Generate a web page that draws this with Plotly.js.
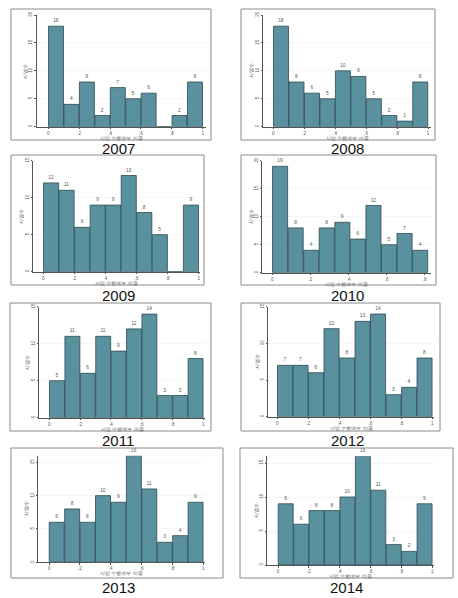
<!DOCTYPE html>
<html><head><meta charset="utf-8">
<script src="https://cdn.plot.ly/plotly-3.0.1.min.js"></script>
<style>html,body{margin:0;padding:0;background:#fff}#chart{width:458px;height:598px}</style>
</head><body><div id="chart"></div>
<script>
// ---- data ----
const years = ['2007','2008','2009','2010','2011','2012','2013','2014'];
const counts2007 = [18,4,8,2,7,5,6,0,2,8];
const counts2008 = [18,8,6,5,10,9,5,2,1,8];
const counts2009 = [12,11,6,9,9,13,8,5,0,9];
const counts2010 = [19,8,4,8,9,6,12,5,7,4];
const counts2011 = [5,11,6,11,9,12,14,3,3,8];
const counts2012 = [7,7,6,12,8,13,14,3,4,8];
const counts2013 = [6,8,6,10,9,16,11,3,4,9];
const counts2014 = [9,6,8,8,10,16,11,3,2,9];
const allCounts = [counts2007,counts2008,counts2009,counts2010,counts2011,counts2012,counts2013,counts2014];
const binWidths = [0.1,0.1,0.1,0.0817,0.1,0.1,0.1,0.1];
const xTickVals = [0,0.2,0.4,0.6,0.8,1];
const xTickText = ['0','.2','.4','.6','.8','1'];
const xTickVals2010 = [0,0.2,0.4,0.6,0.8];
const xTickText2010 = ['0','.2','.4','.6','.8'];
const yTicks20 = [0,5,10,15,20];
const yTicks15 = [0,5,10,15];
const yTickSets = [yTicks20,yTicks20,yTicks15,yTicks20,yTicks15,yTicks15,yTicks15,yTicks15];
const xTitle = '사업 수행여부 비율';
const yTitle = '사업수';

// ---- layout geometry (pixels) ----
const W = 458, H = 598;
const geo = [
 {box:[11,9,211,140], xl:36.7, xr:206, p0:48.3, p1:202.7, v1:1, y0:126.7, yt:15, tv:20, yr:[118,148]},
 {box:[241,9,435,140], xl:263.3, xr:430.7, p0:273.3, p1:428, v1:1, y0:126.7, yt:15, tv:20, yr:[347,148]},
 {box:[11,155,204,285], xl:33.3, xr:200, p0:43.3, p1:198.7, v1:1, y0:271.7, yt:160.7, tv:15, yr:[118,295]},
 {box:[241,155,436,285], xl:262.3, xr:430.7, p0:272.3, p1:424.7, v1:0.8, y0:272.7, yt:160.7, tv:20, yr:[347,295]},
 {box:[10,303,211,431], xl:39.3, xr:205, p0:49.3, p1:203.3, v1:1, y0:417.7, yt:306.7, tv:15, yr:[118,440.5]},
 {box:[241,303,440,431], xl:268.3, xr:434, p0:277.3, p1:432.3, v1:1, y0:416.7, yt:306.7, tv:15, yr:[347,440.5]},
 {box:[11,448,223,578], xl:38.3, xr:205, p0:49, p1:203.3, v1:1, y0:562.3, yt:462.3, tv:15, yr:[118,587]},
 {box:[240,448,453,578], xl:267.3, xr:434, p0:278, p1:432.3, v1:1, y0:565, yt:463, tv:15, yr:[346,587]}
];

const traces = [];
const layout = {
  width: W, height: H, margin:{l:0,r:0,t:0,b:0},
  paper_bgcolor:'#fff', plot_bgcolor:'rgba(0,0,0,0)',
  showlegend:false, bargap:0.04,
  font:{family:'Liberation Sans, Arial, sans-serif', color:'#333'},
  shapes:[], annotations:[]
};

allCounts.forEach((counts, i) => {
  const g = geo[i];
  const w = binWidths[i];
  const xs = counts.map((c,k) => (k+0.5)*w);
  const txt = counts.map(c => c > 0 ? String(c) : '');
  const n = i===0 ? '' : String(i+1);
  traces.push({
    type:'bar', x: xs, y: counts, width: w*0.97,
    xaxis:'x'+n, yaxis:'y'+n,
    marker:{color:'#5a919e', line:{color:'#2c4a52', width:0.8}},
    text: txt, textposition:'outside', cliponaxis:false,
    textfont:{size:4.8, color:'#555'}, hoverinfo:'skip'
  });
  const s = (g.p1 - g.p0)/g.v1;
  const maxC = Math.max(...counts);
  const yUnit = (g.y0 - g.yt)/g.tv;
  const yTop = Math.max(g.tv, maxC);
  const yTopPx = g.y0 - yTop*yUnit;
  layout['xaxis'+n] = {
    domain:[g.xl/W, g.xr/W], range:[(g.xl-g.p0)/s, (g.xr-g.p0)/s],
    anchor:'y'+n, tickvals: i===3 ? xTickVals2010 : xTickVals,
    ticktext: i===3 ? xTickText2010 : xTickText,
    showgrid:false, zeroline:false, showline:true, linecolor:'#555', linewidth:1,
    ticks:'outside', ticklen:1.5, tickcolor:'#555', tickfont:{size:4.5, color:'#555'}
  };
  layout['yaxis'+n] = {
    domain:[1-g.y0/H, 1-yTopPx/H], range:[0, yTop],
    anchor:'x'+n, tickvals: yTickSets[i], tickangle:-90,
    showgrid:true, gridcolor:'#eef0f0', gridwidth:0.6, zeroline:false,
    showline:true, linecolor:'#555', linewidth:1,
    ticks:'outside', ticklen:1.5, tickcolor:'#555', tickfont:{size:4.5, color:'#555'}
  };
  layout.shapes.push({type:'rect', xref:'paper', yref:'paper',
    x0:g.box[0]/W, x1:g.box[2]/W, y0:1-g.box[3]/H, y1:1-g.box[1]/H,
    line:{color:'#8a8a8a', width:1}, fillcolor:'rgba(0,0,0,0)'});
  // x title
  layout.annotations.push({xref:'paper', yref:'paper', showarrow:false,
    x:((g.xl+g.xr)/2)/W, y:1-(g.y0+11)/H, text:xTitle, font:{size:5, color:'#555'},
    xanchor:'center', yanchor:'middle'});
  // y title
  layout.annotations.push({xref:'paper', yref:'paper', showarrow:false,
    x:(g.xl-12)/W, y:1-((g.y0+yTopPx)/2)/H, text:yTitle, textangle:-90, font:{size:5, color:'#555'},
    xanchor:'center', yanchor:'middle'});
  // year
  layout.annotations.push({xref:'paper', yref:'paper', showarrow:false,
    x:g.yr[0]/W, y:1-g.yr[1]/H, text:years[i], font:{size:15, color:'#111', family:'Liberation Sans, Arial, sans-serif'},
    xanchor:'center', yanchor:'middle'});
});

Plotly.newPlot('chart', traces, layout, {staticPlot:true, displayModeBar:false});
</script></body></html>
